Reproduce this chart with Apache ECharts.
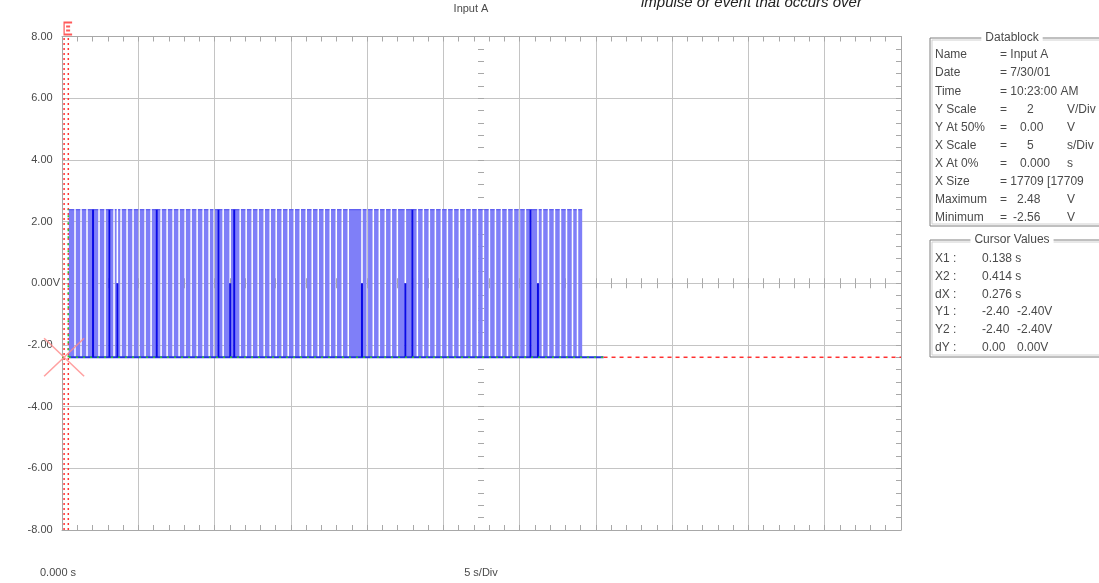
<!DOCTYPE html>
<html><head><meta charset="utf-8">
<script src="https://cdn.jsdelivr.net/npm/echarts@6/dist/echarts.min.js"></script>
<style>html,body{margin:0;padding:0;background:#fff}#c{width:1099px;height:583px}</style>
</head><body><div id="c"></div>
<script>
// ---- data ----
const xMin = 0, xMax = 55, xDiv = 5;        // 5 s/Div
const yMin = -8, yMax = 8, yDiv = 2;        // 2 V/Div
const signalStart = 0.45;                   // s
const signalEnd = 34.10;                    // s, last burst ends
const baselineEnd = 35.50;                  // s, trace ends
const highLevel = 2.40;                     // V
const lowLevel = -2.40;                     // V
const gapDuration = 0.10;                   // s, width of low gaps
const gapCenters = [0.853,1.247,1.640,2.034,2.428,2.822,3.104,3.412,3.629,3.871,4.265,4.659,5.052,5.446,5.840,
  6.214,6.496,6.890,7.283,7.677,8.071,8.465,8.858,9.252,9.646,9.974,10.256,10.564,11.024,11.286,11.680,12.073,
  12.467,12.861,13.255,13.648,14.042,14.436,14.829,15.223,15.617,16.010,16.404,16.798,17.192,17.585,17.979,
  18.373,18.766,19.665,20.013,20.407,20.801,21.194,21.588,21.982,22.507,22.966,23.294,23.688,24.081,24.475,
  24.869,25.262,25.656,26.050,26.444,26.837,27.231,27.625,28.018,28.412,28.806,29.199,29.593,29.987,30.381,
  30.709,31.201,31.496,31.890,32.283,32.677,33.071,33.465,33.793];
const spikesFull = [2.034,3.104,6.214,10.256,11.286,22.966,30.709];   // dark full-height transitions
const spikesHalf = [3.629,11.024,19.665,22.507,31.201];               // dark transitions to 0 V
const cursorX = [0.138, 0.414];   // s
const cursorY = [-2.40, -2.40];   // V
const titleText = "Input A";
const noteText = "impulse or event that occurs over";
const xStartLabel = "0.000 s";
const xScaleLabel = "5 s/Div";
const datablockRows = [
  ["Name", "= Input A", "", ""],
  ["Date", "= 7/30/01", "", ""],
  ["Time", "= 10:23:00 AM", "", ""],
  ["Y Scale", "=", "2", "V/Div"],
  ["Y At 50%", "=", "0.00", "V"],
  ["X Scale", "=", "5", "s/Div"],
  ["X At 0%", "=", "0.000", "s"],
  ["X Size", "= 17709 [17709", "", ""],
  ["Maximum", "=", "2.48", "V"],
  ["Minimum", "=", "-2.56", "V"]
];
const cursorRows = [
  ["X1 :", "0.138 s", ""],
  ["X2 :", "0.414 s", ""],
  ["dX :", "0.276 s", ""],
  ["Y1 :", "-2.40", "-2.40V"],
  ["Y2 :", "-2.40", "-2.40V"],
  ["dY :", "0.00", "0.00V"]
];

// ---- build ----
const gaps = gapCenters.slice().sort((a,b)=>a-b);
const bands = [];
let cur = signalStart;
for (const g of gaps) {
  const gs = g - gapDuration/2, ge = g + gapDuration/2;
  if (gs > cur) bands.push([cur, gs, highLevel, lowLevel]);
  cur = ge;
}
bands.push([cur, signalEnd, highLevel, lowLevel]);
const spikes = spikesFull.map(t=>[t, lowLevel, highLevel]).concat(spikesHalf.map(t=>[t, lowLevel, 0]));

const chart = echarts.init(document.getElementById('c'), null, {renderer:'canvas'});
const GRID = '#c4c4c4', TICK = '#a8a8a8', TXT = '#4a4a4a';
const FONT = 'Liberation Sans, Arial, sans-serif';

function xAx(extra){
  return Object.assign({type:'value', min:xMin, max:xMax, interval:xDiv, axisLabel:{show:false},
    splitLine:{show:false}}, extra);
}
function yAx(extra){
  return Object.assign({type:'value', min:yMin, max:yMax, interval:yDiv, axisLabel:{show:false},
    splitLine:{show:false}}, extra);
}

const G = [];
// datablock
const bx = 930, bw = 185;
G.push({type:'rect', shape:{x:bx, y:38, width:bw, height:188}, style:{fill:'none', stroke:'#808080', lineWidth:1}, z:1});
G.push({type:'rect', shape:{x:bx+2, y:40, width:bw, height:184}, style:{fill:'none', stroke:'#d0d0d0', lineWidth:1}, z:1});
G.push({type:'text', x:1012, y:38, style:{text:'Datablock', fill:TXT, font:'12px '+FONT, align:'center', verticalAlign:'middle', backgroundColor:'#fff', padding:[0,4]}, z:3});
const valPos = {"2":1027,"0.00":1020,"5":1027,"0.000":1020,"2.48":1017,"-2.56":1013};
datablockRows.forEach((r,i)=>{
  const y = 55 + i*18.1;
  G.push({type:'text', x:935, y:y, style:{text:r[0], fill:TXT, font:'12px '+FONT, verticalAlign:'middle'}, z:3});
  G.push({type:'text', x:1000, y:y, style:{text:r[1], fill:TXT, font:'12px '+FONT, verticalAlign:'middle'}, z:3});
  if (r[2]) G.push({type:'text', x:valPos[r[2]], y:y, style:{text:r[2], fill:TXT, font:'12px '+FONT, verticalAlign:'middle'}, z:3});
  if (r[3]) G.push({type:'text', x:1067, y:y, style:{text:r[3], fill:TXT, font:'12px '+FONT, verticalAlign:'middle'}, z:3});
});
// cursor values box
G.push({type:'rect', shape:{x:bx, y:240, width:bw, height:117}, style:{fill:'none', stroke:'#808080', lineWidth:1}, z:1});
G.push({type:'rect', shape:{x:bx+2, y:242, width:bw, height:113}, style:{fill:'none', stroke:'#d0d0d0', lineWidth:1}, z:1});
G.push({type:'text', x:1012, y:240, style:{text:'Cursor Values', fill:TXT, font:'12px '+FONT, align:'center', verticalAlign:'middle', backgroundColor:'#fff', padding:[0,4]}, z:3});
cursorRows.forEach((r,i)=>{
  const y = 259 + i*17.7;
  G.push({type:'text', x:935, y:y, style:{text:r[0], fill:TXT, font:'12px '+FONT, verticalAlign:'middle'}, z:3});
  G.push({type:'text', x:982, y:y, style:{text:r[1], fill:TXT, font:'12px '+FONT, verticalAlign:'middle'}, z:3});
  if (r[2]) G.push({type:'text', x:1017, y:y, style:{text:r[2], fill:TXT, font:'12px '+FONT, verticalAlign:'middle'}, z:3});
});
// titles / notes
G.push({type:'text', x:471, y:9, style:{text:titleText, fill:TXT, font:'11px '+FONT, align:'center', verticalAlign:'middle'}, z:3});
G.push({type:'text', x:641, y:10, style:{text:noteText, fill:'#222', font:'italic 15px '+FONT, verticalAlign:'bottom'}, z:3});
G.push({type:'text', x:40, y:573, style:{text:xStartLabel, fill:TXT, font:'11px '+FONT, verticalAlign:'middle'}, z:3});
G.push({type:'text', x:481, y:573, style:{text:xScaleLabel, fill:TXT, font:'11px '+FONT, align:'center', verticalAlign:'middle'}, z:3});

const option = {
  backgroundColor:'#fff',
  animation:false,
  grid:{left:62, right:198, top:36.5, bottom:53},
  xAxis:[
    xAx({position:'bottom', axisLine:{onZero:false, lineStyle:{color:TICK}}, axisTick:{inside:true, length:5, lineStyle:{color:TICK}},
         minorTick:{show:true, splitNumber:5, length:5, lineStyle:{color:TICK}}, splitLine:{show:true, lineStyle:{color:GRID}}}),
    xAx({position:'top', axisLine:{onZero:false, lineStyle:{color:TICK}}, axisTick:{inside:true, length:5, lineStyle:{color:TICK}},
         minorTick:{show:true, splitNumber:5, length:5, lineStyle:{color:TICK}}}),
    xAx({position:'bottom', axisLine:{onZero:true, show:false}, axisTick:{inside:true, length:5, lineStyle:{color:TICK}},
         minorTick:{show:true, splitNumber:5, length:5, lineStyle:{color:TICK}}}),
    xAx({position:'bottom', axisLine:{onZero:true, show:false}, axisTick:{inside:false, length:5, lineStyle:{color:TICK}},
         minorTick:{show:true, splitNumber:5, length:5, lineStyle:{color:TICK}}})
  ],
  yAxis:[
    yAx({position:'left', axisLine:{onZero:false, show:true, lineStyle:{color:TICK}}, axisTick:{show:false},
         splitLine:{show:true, lineStyle:{color:GRID}},
         axisLabel:{show:true, margin:2, fontSize:11, fontFamily:FONT, color:TXT,
           formatter:v=> v===0 ? '{n|0.00}{u|V}' : '{n|'+v.toFixed(2)+'}{h|V}',
           rich:{n:{fontSize:11, fontFamily:FONT, color:TXT}, u:{fontSize:11, fontFamily:FONT, color:TXT}, h:{fontSize:11, fontFamily:FONT, color:'rgba(0,0,0,0)'}}}}),
    yAx({position:'right', axisLine:{onZero:false, show:true, lineStyle:{color:TICK}}, axisTick:{inside:true, length:5, lineStyle:{color:TICK}},
         minorTick:{show:true, splitNumber:5, length:5, lineStyle:{color:TICK}}}),
    yAx({position:'left', offset:-419, axisLine:{onZero:false, show:false}, axisTick:{inside:true, length:3, lineStyle:{color:TICK}},
         minorTick:{show:true, splitNumber:5, length:3, lineStyle:{color:TICK}}}),
    yAx({position:'left', offset:-419, axisLine:{onZero:false, show:false}, axisTick:{inside:false, length:3, lineStyle:{color:TICK}},
         minorTick:{show:true, splitNumber:5, length:3, lineStyle:{color:TICK}}})
  ],
  graphic: G,
  series:[
    { // cursor X lines (red dotted)
      type:'line', data:[[cursorX[0], yMin],[cursorX[0], yMax]], symbol:'none', silent:true,
      lineStyle:{color:'#ff3030', width:1.5, type:[2,3]}, z:1
    },
    {
      type:'line', data:[[cursorX[1], yMin],[cursorX[1], yMax]], symbol:'none', silent:true,
      lineStyle:{color:'#ff3030', width:1.5, type:[2,3]}, z:1
    },
    { // bursts
      type:'custom', z:2, clip:true,
      data: bands,
      encode:{x:[0,1], y:[2,3]},
      renderItem:(p, api)=>{
        const a = api.coord([api.value(0), api.value(2)]);
        const b = api.coord([api.value(1), api.value(3)]);
        return {type:'group', children:[
          {type:'rect', shape:{x:a[0], y:a[1], width:b[0]-a[0], height:b[1]-a[1]}, style:{fill:'#7f7ff8'}},
          {type:'line', shape:{x1:a[0], y1:a[1]+0.5, x2:b[0], y2:a[1]+0.5}, style:{stroke:'#4f4fee', lineWidth:1}}
        ]};
      }
    },
    { // baseline of trace
      type:'line', data:[[signalStart, lowLevel],[baselineEnd, lowLevel]], symbol:'none', silent:true,
      lineStyle:{color:'#2233dd', width:2}, z:3
    },
    { // dark transitions
      type:'custom', z:4, clip:true,
      data: spikes,
      encode:{x:0, y:[1,2]},
      renderItem:(p, api)=>{
        const a = api.coord([api.value(0), api.value(1)]);
        const b = api.coord([api.value(0), api.value(2)]);
        return {type:'line', shape:{x1:a[0], y1:a[1], x2:b[0], y2:b[1]}, style:{stroke:'#0a0ae6', lineWidth:2}};
      }
    },
    { // cursor Y (green over trace)
      type:'line', data:[[xMin, cursorY[0]],[baselineEnd, cursorY[0]]], symbol:'none', silent:true,
      lineStyle:{color:'#30c030', width:1.5, type:[2,5]}, z:5
    },
    { // cursor X2 green part over trace
      type:'line', data:[[cursorX[1], lowLevel],[cursorX[1], highLevel]], symbol:'none', silent:true,
      lineStyle:{color:'#30c030', width:1.5, type:[2,5]}, z:5
    },
    { // cursor Y red dashed after trace
      type:'line', data:[[baselineEnd, cursorY[1]],[xMax, cursorY[1]]], symbol:'none', silent:true,
      lineStyle:{color:'#ff3030', width:1.5, type:[4,4]}, z:5
    },
    { // cursor crossing marker
      type:'scatter', data:[[cursorX[0], cursorY[0]]], silent:true, z:6,
      symbol:'path://M0,0L20,19L40,0M0,38L20,19L40,38', symbolSize:[40,38], symbolKeepAspect:false,
      itemStyle:{color:'none', borderColor:'#ff8a8a', borderWidth:1.5}
    },
    { // cursor flag at top
      type:'scatter', data:[[cursorX[0], yMax]], silent:true, z:6,
      symbol:'path://M8,0L0,0L0,12L8,12M2,4L6,4M2,8L6,8', symbolSize:[8,12], symbolOffset:[4,-8],
      itemStyle:{color:'none', borderColor:'#ff3030', borderWidth:1.5}
    }
  ]
};
chart.setOption(option);
</script></body></html>
